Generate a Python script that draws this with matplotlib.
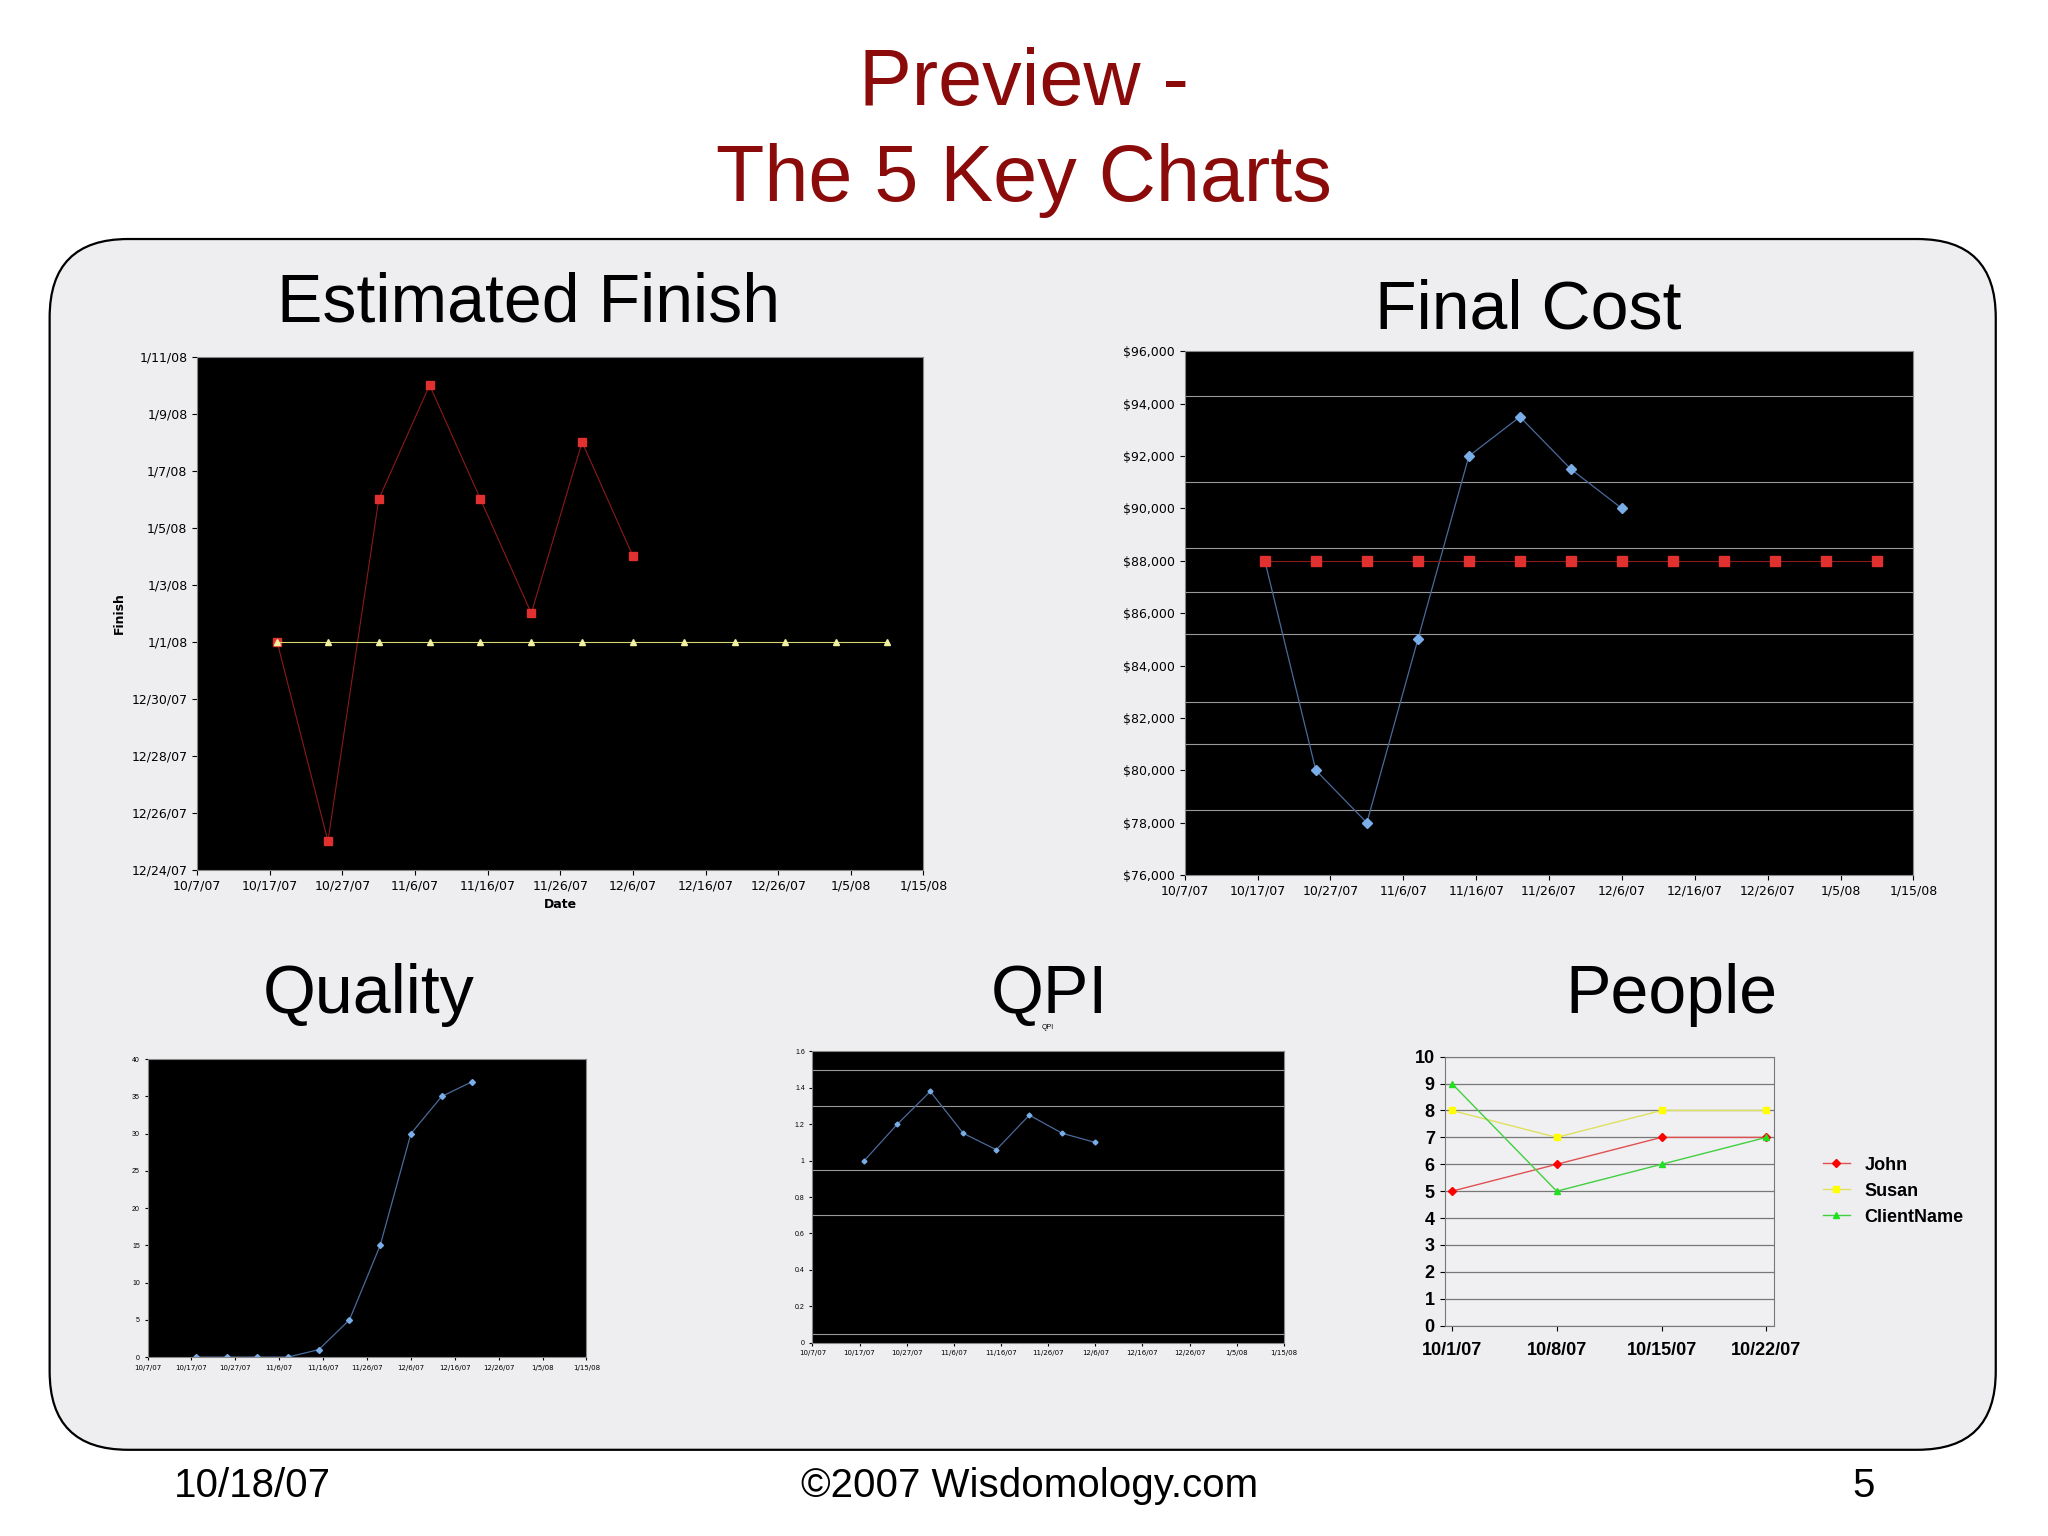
import matplotlib
matplotlib.use("Agg")
import matplotlib.pyplot as plt
import matplotlib.dates as mdates
from matplotlib.patches import FancyBboxPatch
from datetime import date, timedelta

plt.rcParams['font.family'] = ['Liberation Sans', 'DejaVu Sans']

# ---------------- data ----------------
week_dates = [date(2007, 10, 18) + timedelta(days=7 * i) for i in range(13)]
finish_est = ["2008-01-01", "2007-12-25", "2008-01-06", "2008-01-10", "2008-01-06",
              "2008-01-02", "2008-01-08", "2008-01-04"]
finish_plan = ["2008-01-01"] * 13
cost_est = [88000, 80000, 78000, 85000, 92000, 93500, 91500, 90000]
cost_plan = [88000] * 13
cost_grid = [94300, 91000, 88500, 86800, 85200, 82600, 81000, 78500]
quality_vals = [0, 0, 0, 0, 1, 5, 15, 30, 35, 37]
qpi_vals = [1.0, 1.2, 1.38, 1.15, 1.06, 1.25, 1.15, 1.1]
qpi_grid = [1.5, 1.3, 0.95, 0.7, 0.05]
people_dates = ["10/1/07", "10/8/07", "10/15/07", "10/22/07"]
john = [5, 6, 7, 7]
susan = [8, 7, 8, 8]
client = [9, 5, 6, 7]
xtick_dates = [date(2007, 10, 7) + timedelta(days=10 * i) for i in range(11)]
finish_yticks = [date(2007, 12, 24) + timedelta(days=2 * i) for i in range(10)]

W, H = 1568.0, 1176.0
fig = plt.figure(figsize=(20.48, 15.36), dpi=100)
fig.patch.set_facecolor('white')

def ax_at(x0, y0, x1, y1):
    return fig.add_axes([x0 / W, 1 - y1 / H, (x1 - x0) / W, (y1 - y0) / H])

def ftxt(x, y, s, **kw):
    fig.text(x / W, 1 - y / H, s, ha='center', va='center', **kw)

# panel
bg = fig.add_axes([0, 0, 1, 1], zorder=-10)
bg.set_xlim(0, W); bg.set_ylim(H, 0); bg.axis('off')
bg.add_patch(FancyBboxPatch((38 + 60, 183 + 60), 1490 - 120, 927 - 120,
                            boxstyle="round,pad=60", fc='#eeeef1', ec='black', lw=1.6))

ftxt(784, 65, "Preview -", fontsize=57, color='#8b0a0a')
ftxt(784, 138, "The 5 Key Charts", fontsize=57, color='#8b0a0a')
ftxt(405, 232, "Estimated Finish", fontsize=49)
ftxt(1170, 238, "Final Cost", fontsize=49)
ftxt(282, 762, "Quality", fontsize=49)
ftxt(803, 762, "QPI", fontsize=49)
ftxt(1280, 762, "People", fontsize=49)
ftxt(193, 1138, "10/18/07", fontsize=29)
ftxt(788, 1138, "\u00a92007 Wisdomology.com", fontsize=29)
ftxt(1427, 1138, "5", fontsize=29)

def date_xaxis(ax, fs):
    ax.set_xlim(mdates.date2num(xtick_dates[0]), mdates.date2num(xtick_dates[-1]))
    ax.set_xticks(mdates.date2num(xtick_dates))
    ax.set_xticklabels([f"{d.month}/{d.day}/{d.year % 100:02d}" for d in xtick_dates], fontsize=fs,
                       family='DejaVu Sans')

def black(ax):
    ax.set_facecolor('black')
    for s in ax.spines.values():
        s.set_color('#888888')

# Estimated finish
ax = ax_at(151, 273, 707, 666)
black(ax)
wx = mdates.date2num(week_dates)
ax.plot(wx[:len(finish_est)], mdates.datestr2num(finish_est), color='#8b1a1a', lw=0.8,
        marker='s', ms=6, mfc='#e03030', mec='#e03030')
ax.plot(wx, mdates.datestr2num(finish_plan), color='#d8d870', lw=0.8,
        marker='^', ms=5, mfc='#f0f0a0', mec='#f0f0a0')
date_xaxis(ax, 9)
yt = mdates.date2num(finish_yticks)
ax.set_ylim(yt[0], yt[-1])
ax.set_yticks(yt)
ax.set_yticklabels([f"{d.month}/{d.day}/{d.year % 100:02d}" for d in finish_yticks], fontsize=9,
                   family='DejaVu Sans')
ax.set_ylabel("Finish", fontsize=9, fontweight='bold', family='DejaVu Sans')
ax.set_xlabel("Date", fontsize=9, fontweight='bold', family='DejaVu Sans')

# Final cost
ax = ax_at(907, 269, 1465, 670)
black(ax)
for g in cost_grid:
    ax.axhline(g, color='#999999', lw=0.8)
ax.plot(wx[:len(cost_est)], cost_est, color='#4a6a9a', lw=0.9, marker='D', ms=5,
        mfc='#7aaee8', mec='#7aaee8')
ax.plot(wx, cost_plan, color='#8b1a1a', lw=0.8, marker='s', ms=7, mfc='#e03030', mec='#e03030')
date_xaxis(ax, 9)
ax.set_ylim(76000, 96000)
ax.set_yticks(range(76000, 96001, 2000))
ax.set_yticklabels([f"${v:,}" for v in range(76000, 96001, 2000)], fontsize=9, family='DejaVu Sans')

# Quality
ax = ax_at(113, 811, 449, 1039)
black(ax)
ax.plot(wx[:len(quality_vals)], quality_vals, color='#4a6a9a', lw=0.9, marker='D', ms=3,
        mfc='#7aaee8', mec='#7aaee8')
date_xaxis(ax, 5)
ax.set_ylim(0, 40)
ax.set_yticks(range(0, 41, 5))
ax.tick_params(labelsize=5, length=2)

# QPI
ax = ax_at(622, 805, 983, 1028)
black(ax)
for g in qpi_grid:
    ax.axhline(g, color='#999999', lw=0.8)
ax.plot(wx[:len(qpi_vals)], qpi_vals, color='#4a6a9a', lw=0.9, marker='D', ms=2.5,
        mfc='#7aaee8', mec='#7aaee8')
date_xaxis(ax, 5)
ax.set_ylim(0, 1.6)
ax.set_yticks([0, 0.2, 0.4, 0.6, 0.8, 1, 1.2, 1.4, 1.6])
ax.set_yticklabels(["0", "0.2", "0.4", "0.6", "0.8", "1", "1.2", "1.4", "1.6"])
ax.tick_params(labelsize=5, length=2)
ax.set_title("QPI", fontsize=5, pad=16)

# People
ax = ax_at(1106, 809, 1358, 1015)
ax.set_facecolor('#f0f0f2')
for s in ax.spines.values():
    s.set_color('#777777')
xi = list(range(len(people_dates)))
ax.plot(xi, john, color='#e05050', lw=1, marker='D', ms=4, mfc='red', mec='red', label='John')
ax.plot(xi, susan, color='#e0e060', lw=1, marker='s', ms=4, mfc='yellow', mec='yellow', label='Susan')
ax.plot(xi, client, color='#40d040', lw=1, marker='^', ms=5, mfc='#20e020', mec='#20e020', label='ClientName')
ax.set_xlim(-0.07, 3.07)
ax.set_ylim(0, 10)
ax.set_yticks(range(0, 11))
ax.yaxis.grid(True, color='#777777', lw=0.9)
ax.set_axisbelow(True)
ax.set_xticks(xi)
ax.set_xticklabels(people_dates)
ax.tick_params(labelsize=13)
for t in ax.get_xticklabels() + ax.get_yticklabels():
    t.set_fontweight('bold')
ax.tick_params(axis='x', pad=8)
leg = ax.legend(loc='center left', bbox_to_anchor=(1.1, 0.5), frameon=False,
                prop={'weight': 'bold', 'size': 13}, handlelength=1.5)

fig.savefig("out.png", dpi=100)
